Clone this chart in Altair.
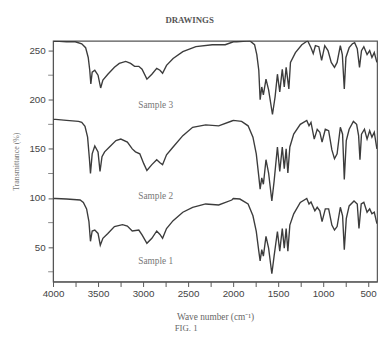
import altair as alt
import pandas as pd

# Sample 1 (wave number, transmittance)
wn_s1 = [3995, 3971, 3850, 3699, 3663, 3627, 3601, 3584, 3565, 3536, 3500, 3475, 3446, 3391, 3318, 3228,
         3174, 3120, 3047, 3011, 2957, 2902, 2848, 2812, 2783, 2739, 2666, 2558, 2449, 2304, 2160, 2014,
         1997, 1924, 1833, 1779, 1742, 1714, 1699, 1681, 1663, 1634, 1605, 1569, 1544, 1507, 1481, 1453,
         1431, 1410, 1391, 1369, 1326, 1253, 1181, 1156, 1134, 1091, 1065, 1036, 1011, 975, 938, 902,
         873, 844, 808, 783, 764, 742, 710, 656, 620, 601, 576, 547, 511, 482, 457, 431, 402]
tr_s1 = [99.6, 99.6, 99, 98, 95.6, 89, 76, 56, 66.5, 67.5, 64, 52, 59, 64, 71, 73,
         71.5, 66.5, 67.5, 62.5, 54, 59, 66.5, 63, 59, 69, 77, 85.6, 90.6, 94, 93, 98,
         99.6, 99, 94, 82, 66, 46, 36, 47.5, 41, 61, 49, 23, 41, 66, 46, 69,
         49, 69, 46, 72.5, 84, 95.6, 99.6, 94, 96, 87, 90.6, 87, 76, 89, 89, 72.5,
         67.5, 71, 90.6, 82, 47.5, 79, 92, 97, 94, 69, 94, 95.6, 85.6, 89, 84, 85.6, 74]

# Sample 2
wn_s2 = [3995, 3971, 3850, 3717, 3681, 3645, 3616, 3595, 3584, 3565, 3536, 3500, 3478, 3456, 3427, 3373,
         3301, 3247, 3174, 3120, 3084, 3036, 2992, 2957, 2902, 2848, 2812, 2783, 2739, 2666, 2558, 2449,
         2304, 2160, 2014, 1997, 1905, 1833, 1779, 1742, 1714, 1699, 1681, 1663, 1634, 1605, 1569, 1544,
         1507, 1481, 1453, 1431, 1410, 1391, 1369, 1326, 1253, 1181, 1156, 1134, 1098, 1065, 1036, 1011,
         975, 938, 902, 873, 844, 808, 783, 764, 742, 710, 663, 627, 605, 590, 573, 540, 511, 482, 457,
         431, 402]
tr_s2 = [180, 180, 179, 178, 177, 173, 162, 139, 125, 145, 153, 147, 127, 142, 147, 152,
         158.5, 160, 157, 150, 147, 145, 135, 128, 134, 139, 136, 134, 144, 152, 163.5, 172,
         174.5, 173.5, 178.4, 179, 178, 173.5, 162, 145, 122, 109, 120.5, 114, 139, 125.5, 97, 117,
         152, 127, 152, 130, 150, 125.5, 152, 165, 175, 179, 173.5, 177, 160, 170, 167, 157,
         170, 168.5, 149, 140, 145, 172, 165, 119, 158.5, 170, 178, 175, 163.5, 139, 165, 170, 160, 168.5, 162,
         167, 150]

# Sample 3
wn_s3 = [3995, 3971, 3850, 3753, 3681, 3638, 3609, 3592, 3580, 3565, 3536, 3500, 3471, 3446, 3391, 3318,
         3264, 3192, 3138, 3094, 3047, 3011, 2957, 2902, 2848, 2812, 2783, 2739, 2666, 2558, 2413, 2231,
         2141, 2087, 1996, 1960, 1815, 1761, 1736, 1714, 1699, 1681, 1663, 1634, 1605, 1562, 1533, 1507,
         1481, 1453, 1431, 1410, 1380, 1362, 1307, 1236, 1171, 1134, 1109, 1085, 1047, 1016, 981, 945,
         909, 873, 844, 808, 786, 764, 746, 710, 674, 649, 620, 595, 573, 547, 511, 482, 457, 431, 402]
tr_s3 = [259.5, 259.6, 259, 259, 257, 253, 243, 230, 216, 228, 230, 225, 212, 220, 226, 233,
         237, 239, 237, 234, 234, 231, 221, 226, 232, 230, 227, 235, 242, 249, 254, 256,
         256, 256, 259, 259, 260, 256, 246, 230, 200, 213, 205, 221, 210, 185, 203, 226,
         208, 231, 213, 233, 211, 238, 248, 256, 260, 253, 247, 255, 254, 240, 255, 250,
         238, 233, 238, 255, 246, 211, 243, 253, 257, 258, 252, 233, 250, 254, 246, 250, 243, 248, 238]

sample_names = ["Sample 1", "Sample 2", "Sample 3"]
label_wn = [2860, 2860, 2860]
label_tr = [36, 102, 195]

x_ticks = list(range(500, 4001, 250))
y_major = [50, 100, 150, 200, 250]
y_minor = [25, 75, 125, 175, 225]

rows = []
for name, wn, tr in zip(sample_names, [wn_s1, wn_s2, wn_s3], [tr_s1, tr_s2, tr_s3]):
    for i, (w, t) in enumerate(zip(wn, tr)):
        rows.append({"sample": name, "wn": w, "tr": t, "idx": i})
df = pd.DataFrame(rows)
labels = pd.DataFrame({"sample": sample_names, "wn": label_wn, "tr": label_tr})
minor = pd.DataFrame({"tr": y_minor})

x_scale = alt.Scale(domain=[400, 4000], reverse=True, nice=False, zero=False)
y_scale = alt.Scale(domain=[15, 260], nice=False, zero=False)

x_axis = alt.Axis(
    values=x_ticks, format="d",
    labelExpr="datum.value % 500 == 0 ? format(datum.value, 'd') : ''",
    title="Wave number (cm⁻¹)", grid=False, tickSize=5, labelPadding=2,
    labelFont="Liberation Sans", labelFontSize=10, labelColor="#444",
    titleFont="Liberation Serif", titleFontSize=9.5, titleFontWeight="normal",
    titleColor="#666", titlePadding=14, domainColor="#555", tickColor="#555",
    labelFlush=False, labelOverlap=False)
y_axis = alt.Axis(
    values=y_major, format="d",
    title="Transmittance (%)", grid=False, tickSize=5, labelPadding=3,
    labelFont="Liberation Sans", labelFontSize=10, labelColor="#444",
    titleFont="Liberation Serif", titleFontSize=8, titleFontWeight="normal",
    titleColor="#777", titlePadding=9, domainColor="#555", tickColor="#555",
    labelOverlap=False, labelFlush=False)

lines = alt.Chart(df).mark_line(color="#3c3c3c", strokeWidth=1.4, clip=True).encode(
    x=alt.X("wn:Q", scale=x_scale, axis=x_axis),
    y=alt.Y("tr:Q", scale=y_scale, axis=y_axis),
    detail="sample:N",
    order="idx:Q",
)

minor_ticks = alt.Chart(minor).mark_tick(orient="horizontal", color="#555", thickness=1).encode(
    y=alt.Y("tr:Q", scale=y_scale, axis=y_axis),
    x=alt.value(-2.5),
    size=alt.value(5),
)

texts = alt.Chart(labels).mark_text(
    font="Liberation Serif", fontSize=9.5, color="#777", baseline="middle", align="center"
).encode(x=alt.X("wn:Q", scale=x_scale, axis=x_axis), y=alt.Y("tr:Q", scale=y_scale, axis=y_axis),
         text="sample:N")

fig = alt.Chart(pd.DataFrame({"t": ["FIG. 1"]})).mark_text(
    font="Liberation Serif", fontSize=9, color="#666", baseline="middle", align="center"
).encode(x=alt.value(136), y=alt.value(293), text="t:N")

chart = alt.layer(lines, minor_ticks, texts, fig).properties(
    width=331, height=246,
    title=alt.TitleParams("DRAWINGS", font="Liberation Serif", fontSize=9, fontWeight="bold",
                          color="#555", anchor="middle", dx=-26, offset=16),
    autosize=alt.AutoSizeParams(type="none"),
    padding={"left": 46, "top": 30, "right": 3, "bottom": 49},
).configure_view(stroke="#555", strokeWidth=1.2)

chart.save("out.html", embed_options={"renderer": "svg", "actions": False})
